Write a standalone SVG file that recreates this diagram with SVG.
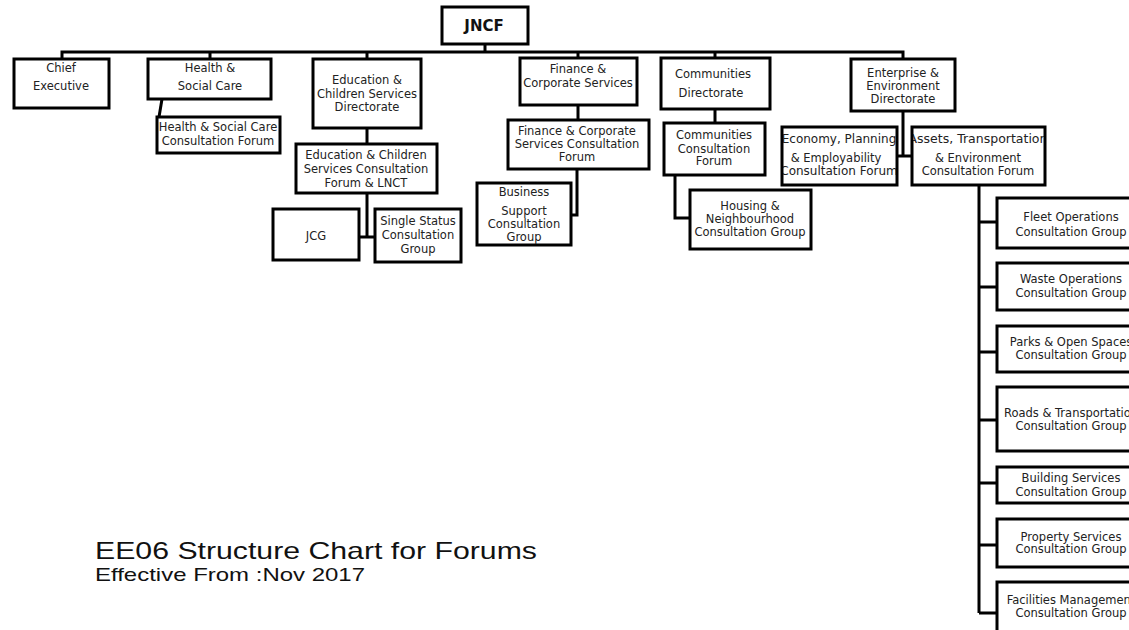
<svg xmlns="http://www.w3.org/2000/svg" width="1129" height="630" viewBox="0 0 1129 630">
<style>
.b{fill:#fff;stroke:#000;stroke-width:3}
.t{font-family:"DejaVu Sans",Verdana,sans-serif;font-size:11.5px;fill:#222;text-anchor:middle}
.c{fill:none;stroke:#000;stroke-width:3}
.h{font-family:"Liberation Sans",Arial,sans-serif;fill:#111}
</style>
<defs>
<clipPath id="cEco"><rect x="783" y="128" width="113" height="56"/></clipPath>
<clipPath id="cAss"><rect x="913" y="128" width="131" height="56"/></clipPath>
</defs>
<rect width="1129" height="630" fill="#fff"/>
<g id="connectors">
<path class="c" d="M62,59V52H903V59M210,52V59M367,52V59M578,52V58M715,52V58M485,44V52"/>
<path class="c" d="M162,99L159,117"/>
<path class="c" d="M367,128V144M367,193V237M359,237H375"/>
<path class="c" d="M578,105V120M577,169V215H571"/>
<path class="c" d="M715,109V123M675,175V218H690"/>
<path class="c" d="M903,111V156M897,156H912"/>
<path class="c" d="M979,185V613M979,222H997M979,287H997M979,352H997M979,420H997M979,483H997M979,545H997M979,613H997"/>
</g>
<g id="jncf"><rect class="b" x="442" y="7" width="86" height="37"/><text x="484" y="31" style="font-family:'DejaVu Sans',sans-serif;font-weight:bold;font-size:15px;fill:#111;text-anchor:middle">JNCF</text></g>
<g id="chief"><rect class="b" x="14" y="59" width="95" height="49"/><text class="t" x="61" y="72">Chief</text><text class="t" x="61" y="90">Executive</text></g>
<g id="hsc"><rect class="b" x="148" y="59" width="123" height="40"/><text class="t" x="210" y="72">Health &amp;</text><text class="t" x="210" y="90">Social Care</text></g>
<g id="hscf"><rect class="b" x="157" y="117" width="123" height="36"/><text class="t" x="218" y="131">Health &amp; Social Care</text><text class="t" x="218" y="145">Consultation Forum</text></g>
<g id="ecsd"><rect class="b" x="313" y="59" width="108" height="69"/><text class="t" x="367" y="84">Education &amp;</text><text class="t" x="367" y="98">Children Services</text><text class="t" x="367" y="111">Directorate</text></g>
<g id="ecsf"><rect class="b" x="296" y="144" width="141" height="49"/><text class="t" x="366" y="159">Education &amp; Children</text><text class="t" x="366" y="173">Services Consultation</text><text class="t" x="366" y="187">Forum &amp; LNCT</text></g>
<g id="jcg"><rect class="b" x="273" y="209" width="86" height="51"/><text class="t" x="316" y="240">JCG</text></g>
<g id="ssc"><rect class="b" x="375" y="209" width="86" height="53"/><text class="t" x="418" y="225">Single Status</text><text class="t" x="418" y="239">Consultation</text><text class="t" x="418" y="253">Group</text></g>
<g id="fcs"><rect class="b" x="520" y="58" width="117" height="47"/><text class="t" x="578" y="73">Finance &amp;</text><text class="t" x="578" y="87">Corporate Services</text></g>
<g id="fcsf"><rect class="b" x="508" y="120" width="141" height="49"/><text class="t" x="577" y="135">Finance &amp; Corporate</text><text class="t" x="577" y="148">Services Consultation</text><text class="t" x="577" y="161">Forum</text></g>
<g id="bsc"><rect class="b" x="477" y="183" width="94" height="62"/><text class="t" x="524" y="196">Business</text><text class="t" x="524" y="215">Support</text><text class="t" x="524" y="228">Consultation</text><text class="t" x="524" y="241">Group</text></g>
<g id="cd"><rect class="b" x="661" y="58" width="109" height="51"/><text class="t" x="713" y="78">Communities</text><text class="t" x="711" y="97">Directorate</text></g>
<g id="ccf"><rect class="b" x="664" y="123" width="101" height="52"/><text class="t" x="714" y="139">Communities</text><text class="t" x="714" y="153">Consultation</text><text class="t" x="714" y="165">Forum</text></g>
<g id="hnc"><rect class="b" x="690" y="190" width="121" height="59"/><text class="t" x="750" y="210">Housing &amp;</text><text class="t" x="750" y="223">Neighbourhood</text><text class="t" x="750" y="236">Consultation Group</text></g>
<g id="eed"><rect class="b" x="851" y="59" width="104" height="52"/><text class="t" x="903" y="77">Enterprise &amp;</text><text class="t" x="903" y="90">Environment</text><text class="t" x="903" y="103">Directorate</text></g>
<g id="epe"><rect class="b" x="782" y="127" width="115" height="58"/><g clip-path="url(#cEco)"><text class="t" x="839" y="143" style="font-size:12px">Economy, Planning</text><text class="t" x="836" y="162">&amp; Employability</text><text class="t" x="839" y="175" style="font-size:12px">Consultation Forum</text></g></g>
<g id="ate"><rect class="b" x="912" y="127" width="133" height="58"/><g clip-path="url(#cAss)"><text class="t" x="978" y="143" style="font-size:12.5px">Assets, Transportation</text><text class="t" x="978" y="162">&amp; Environment</text><text class="t" x="978" y="175">Consultation Forum</text></g></g>
<g id="fleet"><rect class="b" x="997" y="198" width="200" height="50"/><text class="t" x="1071" y="221">Fleet Operations</text><text class="t" x="1071" y="236">Consultation Group</text></g>
<g id="waste"><rect class="b" x="997" y="263" width="200" height="47"/><text class="t" x="1071" y="283">Waste Operations</text><text class="t" x="1071" y="297">Consultation Group</text></g>
<g id="parks"><rect class="b" x="997" y="326" width="200" height="46"/><text class="t" x="1071" y="346">Parks &amp; Open Spaces</text><text class="t" x="1071" y="359">Consultation Group</text></g>
<g id="roads"><rect class="b" x="997" y="387" width="200" height="64"/><text class="t" x="1071" y="417">Roads &amp; Transportation</text><text class="t" x="1071" y="430">Consultation Group</text></g>
<g id="building"><rect class="b" x="997" y="467" width="200" height="36"/><text class="t" x="1071" y="482">Building Services</text><text class="t" x="1071" y="496">Consultation Group</text></g>
<g id="property"><rect class="b" x="997" y="519" width="200" height="48"/><text class="t" x="1071" y="541">Property Services</text><text class="t" x="1071" y="553">Consultation Group</text></g>
<g id="facilities"><rect class="b" x="997" y="582" width="200" height="60"/><text class="t" x="1071" y="604">Facilities Management</text><text class="t" x="1071" y="617">Consultation Group</text></g>
<g id="title">
<text class="h" x="95" y="559" font-size="24" textLength="442" lengthAdjust="spacingAndGlyphs">EE06 Structure Chart for Forums</text>
<text class="h" x="95" y="581" font-size="19" textLength="270" lengthAdjust="spacingAndGlyphs">Effective From :Nov 2017</text>
</g>
</svg>
